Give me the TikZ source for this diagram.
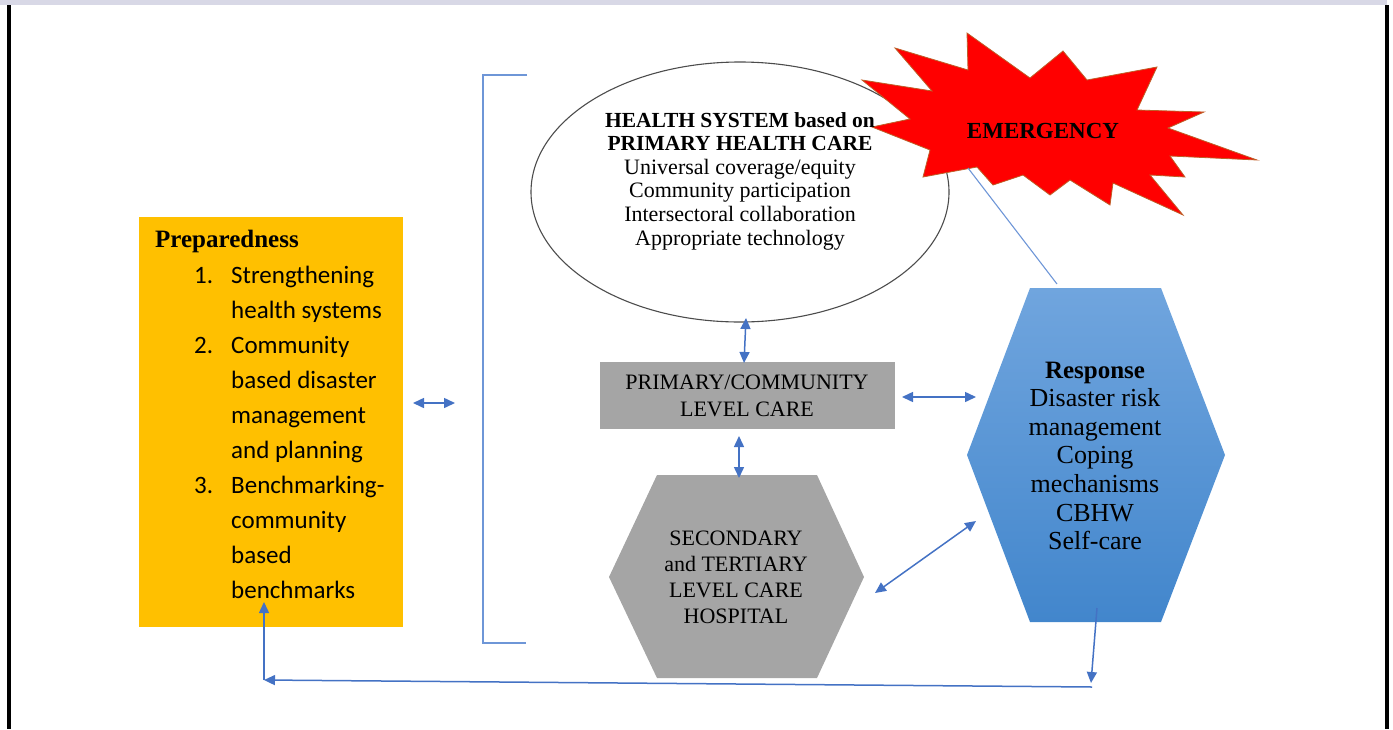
\documentclass[tikz,border=0pt]{standalone}
\usepackage{fontspec}
\setmainfont{Liberation Serif}
\newfontfamily\calibri{Carlito}
\usetikzlibrary{shapes.geometric,arrows.meta}
\definecolor{arrowblue}{RGB}{68,114,196}
\definecolor{linkblue}{RGB}{110,150,215}
\definecolor{prepyellow}{RGB}{255,192,0}
\definecolor{boxgray}{RGB}{165,165,165}
\definecolor{bandlav}{RGB}{216,216,230}
\definecolor{starred}{RGB}{255,0,0}
\definecolor{staredge}{RGB}{190,95,40}
\definecolor{resptop}{RGB}{112,165,222}
\definecolor{respbot}{RGB}{66,134,204}
\tikzset{
  dbl/.style={draw=arrowblue, line width=1.5pt, {Triangle[length=11pt,width=10pt]}-{Triangle[length=11pt,width=10pt]}},
  sgl/.style={draw=arrowblue, line width=1.5pt, -{Triangle[length=11pt,width=10pt]}},
  txt/.style={anchor=base, inner sep=0pt},
  serif22/.style={font=\fontsize{22}{26}\selectfont},
}
\begin{document}
\begin{tikzpicture}[x=1pt,y=-1pt]
\useasboundingbox (0,0) rectangle (1393,729);
% frame
\fill[bandlav] (0,0) rectangle (1387,5);
\fill[black] (7,5) rectangle (11,729);
\fill[black] (1385,5) rectangle (1389,729);

% preparedness box
\node[fill=prepyellow, minimum width=264pt, minimum height=410pt, inner sep=0pt] (prep) at (271,422) {};
\node[anchor=base west, inner sep=0pt, font=\bfseries\fontsize{25}{30}\selectfont] (prephead) at (155,247) {Preparedness};
\foreach \n/\t [count=\i from 0] in {1./Strengthening, /health systems, 2./Community, /based disaster, /management, /and planning, 3./Benchmarking-, /community, /based, /benchmarks}{
  \node[anchor=base west, inner sep=0pt, font=\calibri\fontsize{25}{30}\selectfont] (pl\i) at (231,{283+35*\i}) {\t};
  \node[anchor=base west, inner sep=0pt, font=\calibri\fontsize{25}{30}\selectfont] (pn\i) at (194,{283+35*\i}) {\n};
}

% bracket
\coordinate (bt) at (527,75);
\coordinate (bb) at (526,643);
\draw[linkblue, line width=1.4pt] (bt) -- (483,75) -- (483,643) -- (bb);

% ellipse
\node[ellipse, draw=black!70, line width=1.1pt, minimum width=418pt, minimum height=260pt, inner sep=0pt] (hs) at (740,192) {};

% star
\path[fill=starred, draw=staredge, line width=0.8pt]
 (862,80) -- (910,119) -- (872,127) -- (930,150) -- (923,177) -- (977,167) -- (993,185) -- (1023,175)
 -- (1050,195) -- (1070,180) -- (1110,205) -- (1113,183) -- (1183,215) -- (1150,175) -- (1185,177)
 -- (1170,156) -- (1257,160) -- (1168,128) -- (1204,112) -- (1137,110) -- (1157,67) -- (1087,80)
 -- (1063,51) -- (1030,78) -- (967,33) -- (968,70) -- (895,48) -- (932,91) -- cycle;
\node[txt, font=\bfseries\fontsize{23}{26}\selectfont] (emerg) at (1043,138) {EMERGENCY};

% ellipse text
\node[txt, font=\bfseries\fontsize{21.5}{24}\selectfont] (hs1) at (740,127) {HEALTH SYSTEM based on};
\node[txt, font=\bfseries\fontsize{21.5}{24}\selectfont] (hs2) at (740,150.5) {PRIMARY HEALTH CARE};
\foreach \t [count=\i from 0] in {Universal coverage/equity, Community participation, Intersectoral collaboration, Appropriate technology}{
  \node[txt, font=\fontsize{22}{24}\selectfont] (hl\i) at (740,{174+23.7*\i}) {\t};
}

% primary box
\node[fill=boxgray, minimum width=295pt, minimum height=67pt, inner sep=0pt] (prim) at (747.5,395.5) {};
\node[txt, serif22] (prim1) at (747,389) {PRIMARY/COMMUNITY};
\node[txt, serif22] (prim2) at (747,416) {LEVEL CARE};

% secondary hexagon
\coordinate (s1) at (657,475); \coordinate (s2) at (817,475); \coordinate (s3) at (864,577);
\coordinate (s4) at (817,678); \coordinate (s5) at (657,678); \coordinate (s6) at (609,577);
\fill[boxgray] (s1) -- (s2) -- (s3) -- (s4) -- (s5) -- (s6) -- cycle;
\foreach \t [count=\i from 0] in {SECONDARY, and TERTIARY, LEVEL CARE, HOSPITAL}{
  \node[txt, serif22] (sec\i) at (736,{545+26.3*\i}) {\t};
}

% response hexagon
\coordinate (r1) at (1030,288); \coordinate (r2) at (1161,288); \coordinate (r3) at (1225,455);
\coordinate (r4) at (1161,622); \coordinate (r5) at (1030,622); \coordinate (r6) at (967,455);
\shade[top color=resptop, bottom color=respbot] (r1) -- (r2) -- (r3) -- (r4) -- (r5) -- (r6) -- cycle;
\node[txt, font=\bfseries\fontsize{25}{28}\selectfont] (resp0) at (1095,378) {Response};
\foreach \t [count=\i from 1] in {Disaster risk, management, Coping, mechanisms, CBHW, Self-care}{
  \node[txt, font=\fontsize{26}{28}\selectfont] (resp\i) at (1095,{378+28.6*\i}) {\t};
}

% connectors
\coordinate (emline) at (968,168);
\coordinate (rtop) at (1057,284);
\draw[linkblue, line width=1.1pt] (emline) -- (rtop);

\coordinate (pa) at (413,403); \coordinate (pb) at (455,403);
\draw[dbl] (pa) -- (pb);
\coordinate (ha) at (746,318); \coordinate (hb) at (744,363);
\draw[dbl] (ha) -- (hb);
\coordinate (ma) at (739,436); \coordinate (mb) at (739,478);
\draw[dbl] (ma) -- (mb);
\coordinate (ra) at (902,397); \coordinate (rb) at (976,397);
\draw[dbl] (ra) -- (rb);
\coordinate (da) at (875,593); \coordinate (db) at (976,521);
\draw[dbl] (da) -- (db);

\coordinate (la) at (1097,608); \coordinate (lb) at (1091,683);
\draw[sgl] (la) -- (lb);
\coordinate (ba) at (1092,687); \coordinate (bc) at (264,680);
\draw[sgl] (ba) -- (bc);
\coordinate (ua) at (264,680); \coordinate (ub) at (264,602);
\draw[sgl] (ua) -- (ub);
\end{tikzpicture}
\end{document}
